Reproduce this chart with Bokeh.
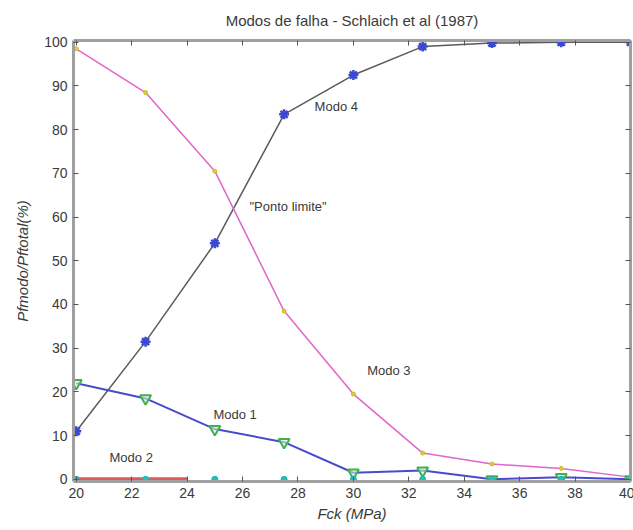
from bokeh.plotting import figure
from bokeh.models import Range1d, LinearAxis, SingleIntervalTicker, Label
from bokeh.embed import file_html
from bokeh.resources import INLINE

# Data
fck = [20, 22.5, 25, 27.5, 30, 32.5, 35, 37.5, 40]
modo1 = [22, 18.5, 11.5, 8.5, 1.5, 2, 0, 0.5, 0]
modo2 = [0, 0, 0, 0, 0, 0, 0, 0, 0]
modo2_line_x = [20, 24]
modo2_line_y = [0, 0]
modo3 = [98.5, 88.5, 70.5, 38.5, 19.5, 6, 3.5, 2.5, 0.5]
modo4 = [11, 31.5, 54, 83.5, 92.5, 99, 99.8, 100, 100]

labels = [
    ("Modo 4", 28.6, 85.2),
    ('"Ponto limite"', 26.25, 62.5),
    ("Modo 3", 30.5, 25.0),
    ("Modo 1", 24.95, 14.8),
    ("Modo 2", 21.2, 5.0),
]

FONT = "Liberation Sans"
AX = "#a0a0a0"
TXT = "#3a3a3a"

p = figure(frame_width=557, frame_height=441, output_backend="svg",
           toolbar_location=None, x_range=Range1d(19.9, 40), y_range=Range1d(-0.5, 100.4),
           min_border_left=73, min_border_top=40, min_border_right=2,
           min_border_bottom=43)
p.outline_line_color = None
p.grid.visible = False
p.background_fill_color = "white"

p.title.text = "Modos de falha - Schlaich et al (1987)"
p.title.align = "center"
p.title.text_font = FONT
p.title.text_font_size = "15px"
p.title.text_font_style = "normal"
p.title.text_color = TXT
p.title.offset = 0
p.title.standoff = 16

def style_axis(ax, show_labels=True):
    ax.axis_line_color = AX
    ax.axis_line_width = 3
    ax.major_tick_in = 5
    ax.major_tick_out = 0
    ax.major_tick_line_color = "#555555"
    ax.minor_tick_line_color = None
    ax.major_label_text_font = FONT
    ax.major_label_text_font_size = "14px"
    ax.major_label_text_color = TXT
    ax.major_label_standoff = 2
    if not show_labels:
        ax.major_label_text_alpha = 0
        ax.major_label_text_font_size = "0px"

p.xaxis.ticker = SingleIntervalTicker(interval=2)
p.yaxis.ticker = SingleIntervalTicker(interval=10)
style_axis(p.xaxis[0])
style_axis(p.yaxis[0])
p.xaxis.axis_label = "Fck (MPa)"
p.yaxis.axis_label = "Pfmodo/Pftotal(%)"
for ax in (p.xaxis[0], p.yaxis[0]):
    ax.axis_label_text_font = FONT
    ax.axis_label_text_font_size = "15px"
    ax.axis_label_text_font_style = "italic"
    ax.axis_label_text_color = TXT
p.xaxis.axis_label_standoff = 4
p.yaxis.axis_label_standoff = 10

top = LinearAxis(ticker=SingleIntervalTicker(interval=2))
style_axis(top, False)
p.add_layout(top, "above")
right = LinearAxis(ticker=SingleIntervalTicker(interval=10))
style_axis(right, False)
p.add_layout(right, "right")

# Modo 4
p.line(fck, modo4, line_color="#5a5a5a", line_width=1.5)
p.scatter(fck, modo4, marker="asterisk", size=10, line_color="#3b48d0", line_width=2.5)

# Modo 3
p.line(fck, modo3, line_color="#e066c8", line_width=1.5)
p.scatter(fck, modo3, marker="circle", size=4, line_color="#c8c020", fill_color="#d8d030")

# Modo 1
p.line(fck, modo1, line_color="#4a4ad0", line_width=2)
p.scatter(fck, modo1, marker="inverted_triangle", size=11, line_color="#40b050",
          fill_color="#d8f0d8", fill_alpha=0.6, line_width=2)

# Modo 2
p.line(modo2_line_x, modo2_line_y, line_color="#dd5a5a", line_width=4)
p.scatter(fck, modo2, marker="circle", size=6, line_color="#20b0b0", fill_color="#20c0c0")

for t, x, y in labels:
    p.add_layout(Label(x=x, y=y, text=t, text_font=FONT, text_font_size="13px",
                       text_color=TXT, text_baseline="middle", text_align="left"))

open("out.html", "w").write(file_html(p, INLINE))
